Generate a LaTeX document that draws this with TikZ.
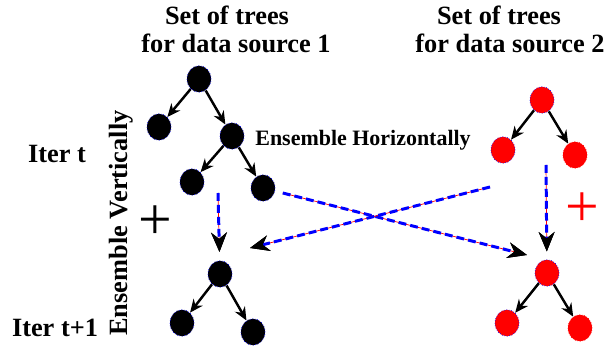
\documentclass[tikz,border=0pt]{standalone}
\usepackage{fontspec}
\setmainfont{Liberation Serif}
\usetikzlibrary{arrows.meta}
\usetikzlibrary{shapes.geometric}

\begin{document}
\begin{tikzpicture}[x=0.02cm,y=-0.02cm]
    \useasboundingbox (0,0) rectangle (608,347);

        % Titles and labels, use the tuple for location
        \begin{scope}[every node/.style={inner sep=0pt,font=\fontsize{15}{18}\selectfont\bfseries}]
        \node[anchor=base] (T1a) at (227,25) {Set of trees};
        \node[anchor=base] (T1b) at (236,53) {for data source 1};
        \node[anchor=base] (T2a) at (499,25) {Set of trees};
        \node[anchor=base] (T2b) at (510,53) {for data source 2};
        \node[anchor=base] (It) at (57,163) {Iter t};
        \node[anchor=base] (It1) at (55,337) {Iter t+1};
        \node[anchor=base,rotate=90] (EV) at (127,223) {Ensemble Vertically};
        \node[anchor=base west,font=\fontsize{12.5}{15}\selectfont\bfseries] (EH) at (255,146) {Ensemble Horizontally};
        \node[font=\fontsize{34}{34}\selectfont] (P1) at (155,223) {+};
        \node[font=\fontsize{34}{34}\selectfont,text=red] (P2) at (582,210) {+};
        \end{scope}

        % Add or remove nodes here
        \begin{scope}[every node/.style={ellipse,draw=blue,densely dotted,thin,minimum width=0.48cm,minimum height=0.53cm,inner sep=0pt}]
        \node[fill=black] (A1) at (199,79) {};
        \node[fill=black] (B1) at (159,127) {};
        \node[fill=black] (C1) at (232,136) {};
        \node[fill=black] (D1) at (192,182) {};
        \node[fill=black] (E1) at (263,188) {};

        \node[fill=red] (A2) at (542,100) {};
        \node[fill=red] (B2) at (503,150) {};
        \node[fill=red,draw=red] (C2) at (575,155) {};

        \node[fill=black] (A3) at (220,274) {};
        \node[fill=black] (B3) at (182,323) {};
        \node[fill=black] (C3) at (253,332) {};

        \node[fill=red] (A4) at (547,273) {};
        \node[fill=red] (B4) at (507,323) {};
        \node[fill=red,draw=red] (C4) at (580,328) {};
        \end{scope}

        % free ends of the dashed arrows
        \coordinate (V1) at (218,193);
        \coordinate (V2) at (546,165);
        \coordinate (H1) at (527,255);
        \coordinate (H2s) at (490,187);
        \coordinate (H2e) at (250,248);

        % tree edges
        \begin{scope}[>={Stealth[black,length=7.5pt,width=6.5pt]},
                  every edge/.style={draw=black, line width=1.4pt}]
        \path [->] (A1) edge[] (B1);
        \path [->] (A1) edge[] (C1);
        \path [->] (C1) edge[] (D1);
        \path [->] (C1) edge[] (E1);
        \path [->] (A2) edge[] (B2);
        \path [->] (A2) edge[] (C2);
        \path [->] (A3) edge[] (B3);
        \path [->] (A3) edge[] (C3);
        \path [->] (A4) edge[] (B4);
        \path [->] (A4) edge[] (C4);
        \end{scope}

        % ensemble (dashed)
        \begin{scope}[>={Stealth[black,length=11pt,width=9pt]},
                  every edge/.style={draw=blue, line width=1.7pt, dash pattern=on 4.5pt off 2.3pt,
                                     preaction={draw=red, line width=0.4pt, solid}}]
        \path [->] (V1) edge[shorten >=0.17cm] (A3);
        \path [->] (V2) edge[shorten >=0.16cm] (A4);
        \path [->] (E1) edge[shorten <=0.16cm] (H1);
        \path [->] (H2s) edge[] (H2e);
        \end{scope}

\end{tikzpicture}
\end{document}
